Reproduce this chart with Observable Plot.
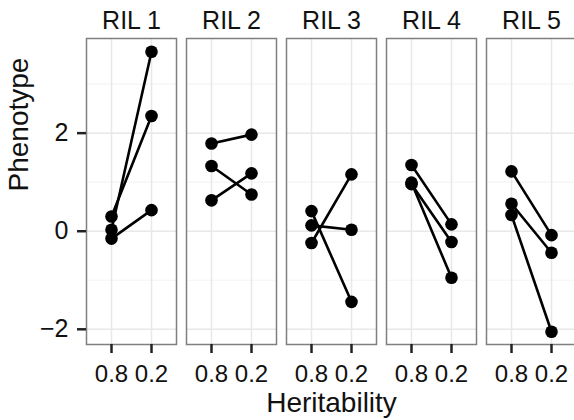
<!DOCTYPE html>
<html>
<head>
<meta charset="utf-8">
<script src="https://cdn.jsdelivr.net/npm/d3@7"></script>
<script src="https://cdn.jsdelivr.net/npm/@observablehq/plot@0.6"></script>
<style>
  html, body { margin: 0; padding: 0; background: white; overflow: hidden; }
</style>
</head>
<body>
<div id="chart"></div>
<script>
// Facets (recombinant inbred lines)
const rils = ["RIL 1", "RIL 2", "RIL 3", "RIL 4", "RIL 5"];
// x categories
const heritability = ["0.8", "0.2"];
// Phenotype at heritability 0.8, three lines per RIL
const phenotypeH08 = [
  [0.30, 0.03, -0.15],
  [1.79, 1.33, 0.63],
  [0.41, 0.12, -0.24],
  [1.35, 0.99, 0.96],
  [1.22, 0.56, 0.33]
];
// Phenotype at heritability 0.2, same lines in the same order
const phenotypeH02 = [
  [2.35, 3.66, 0.43],
  [1.97, 0.75, 1.18],
  [-1.44, 0.03, 1.16],
  [0.14, -0.95, -0.22],
  [-0.08, -0.44, -2.05]
];
// y axis ticks
const yTicks = [-2, 0, 2];
const yMinor = [-1, 1, 3];

const rows = [];
rils.forEach((ril, i) => {
  phenotypeH08[i].forEach((v, j) => {
    rows.push({ril, id: `${ril}-${j}`, h: heritability[0], value: v});
    rows.push({ril, id: `${ril}-${j}`, h: heritability[1], value: phenotypeH02[i][j]});
  });
});

const chart = Plot.plot({
  width: 574,
  height: 420,
  marginTop: 38,
  marginBottom: 76,
  marginLeft: 85,
  marginRight: -3,
  style: {fontFamily: "'Liberation Sans', Arial, sans-serif", fontSize: "25px", background: "white", color: "black"},
  fx: {domain: rils, paddingInner: 0.105, paddingOuter: 0, label: null},
  x: {type: "point", domain: heritability, padding: 0.6, label: null},
  y: {domain: [-2.31, 3.93], label: null},
  marks: [
    Plot.ruleY(yMinor, {stroke: "#f4f4f4", strokeWidth: 1.2}),
    Plot.ruleY(yTicks, {stroke: "#e8e8e8", strokeWidth: 1.5}),
    Plot.ruleX(heritability, {x: d => d, stroke: "#e8e8e8", strokeWidth: 1.5}),
    Plot.frame({stroke: "#7f7f7f", strokeWidth: 1.5}),
    Plot.line(rows, {fx: "ril", x: "h", y: "value", z: "id", stroke: "black", strokeWidth: 2.6}),
    Plot.dot(rows, {fx: "ril", x: "h", y: "value", r: 6.3, fill: "black", stroke: "none"}),
    Plot.axisY(yTicks, {anchor: "left", tickSize: 9, tickPadding: 9, fontSize: 25, strokeWidth: 2.5, stroke: "#222", fill: "#111", label: null}),
    Plot.axisX(heritability, {anchor: "bottom", tickSize: 9, tickPadding: 11, fontSize: 24, strokeWidth: 2.5, stroke: "#222", fill: "#111", label: null}),
    Plot.axisFx({anchor: "top", tickSize: 0, tickPadding: 10, fontSize: 25, fill: "#111", label: null}),
    Plot.text(["Heritability"], {fx: () => "RIL 3", frameAnchor: "bottom", lineAnchor: "bottom", dy: 67, fontSize: 28, fill: "#111", text: d => d}),
    Plot.text(["Phenotype"], {fx: () => "RIL 1", frameAnchor: "left", dx: -67, rotate: -90, fontSize: 28, fill: "#111", text: d => d})
  ]
});
document.getElementById("chart").appendChild(chart);
</script>
</body>
</html>
